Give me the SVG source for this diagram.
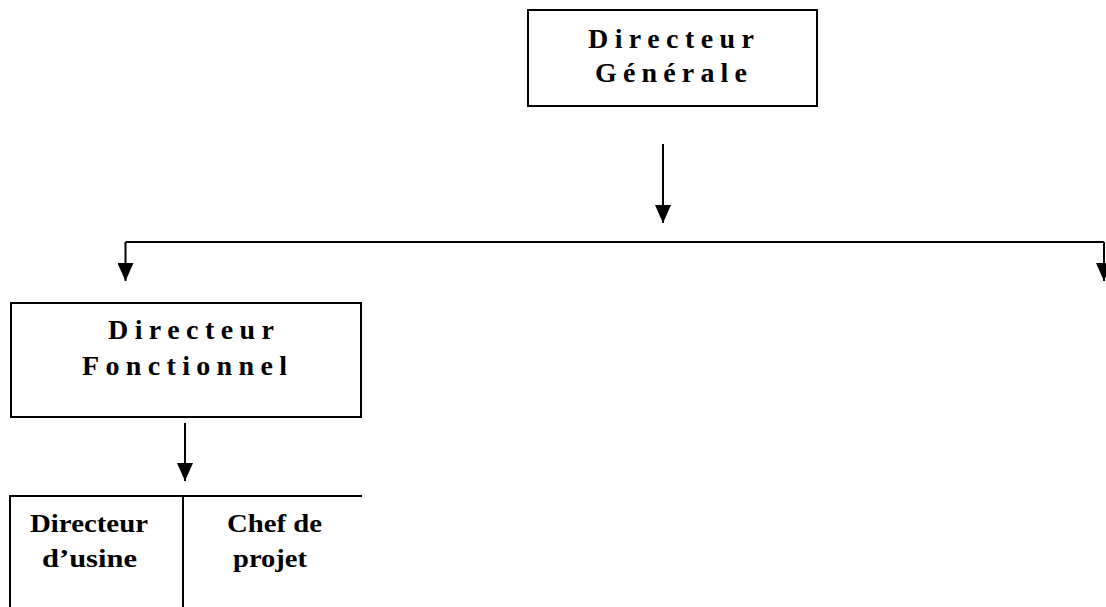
<svg xmlns="http://www.w3.org/2000/svg" width="1106" height="607" viewBox="0 0 1106 607">
  <style>
    .box { fill: #fff; stroke: #000; stroke-width: 2; }
    .link { fill: none; stroke: #000; stroke-width: 2; }
    .spaced { font-family: "Liberation Serif", "Times New Roman", serif; font-weight: bold; font-size: 28px; fill: #000; }
    .cell { font-family: "Liberation Serif", "Times New Roman", serif; font-weight: bold; font-size: 26px; fill: #000; }
  </style>
  <defs>
    <marker id="head" viewBox="0 -8 18 16" refX="18" refY="0" markerWidth="18" markerHeight="16" markerUnits="userSpaceOnUse" orient="auto">
      <path d="M0,-8 L18,0 L0,8 z" fill="#000"/>
    </marker>
  </defs>
  <rect width="1106" height="607" fill="#fff"/>

  <g id="connectors">
    <line class="link" x1="663" y1="144" x2="663" y2="223" marker-end="url(#head)"/>
    <polyline class="link" points="125.5,242 1104,242"/>
    <line class="link" x1="125.5" y1="242" x2="125.5" y2="281" marker-end="url(#head)"/>
    <line class="link" x1="1104" y1="242" x2="1104" y2="281" marker-end="url(#head)"/>
    <line class="link" x1="185" y1="423" x2="185" y2="481" marker-end="url(#head)"/>
  </g>

  <g id="directeur-generale">
    <rect class="box" x="528" y="10" width="289" height="96"/>
    <text class="spaced" x="588" y="48" textLength="166" lengthAdjust="spacing">Directeur</text>
    <text class="spaced" x="595" y="82" textLength="152" lengthAdjust="spacing">Générale</text>
  </g>

  <g id="directeur-fonctionnel">
    <rect class="box" x="11" y="303" width="350" height="114"/>
    <text class="spaced" x="108" y="339" textLength="166" lengthAdjust="spacing">Directeur</text>
    <text class="spaced" x="82" y="375" textLength="205" lengthAdjust="spacing">Fonctionnel</text>
  </g>

  <g id="sous-directions">
    <polyline class="link" points="10,608 10,496 362,496"/>
    <line class="link" x1="183" y1="496" x2="183" y2="608"/>
    <g id="directeur-usine">
      <text class="cell" x="30" y="532" textLength="118" lengthAdjust="spacingAndGlyphs">Directeur</text>
      <text class="cell" x="42" y="567" textLength="95" lengthAdjust="spacingAndGlyphs">d’usine</text>
    </g>
    <g id="chef-de-projet">
      <text class="cell" x="227" y="532" textLength="95" lengthAdjust="spacingAndGlyphs">Chef de</text>
      <text class="cell" x="233" y="567" textLength="74" lengthAdjust="spacingAndGlyphs">projet</text>
    </g>
  </g>
</svg>
